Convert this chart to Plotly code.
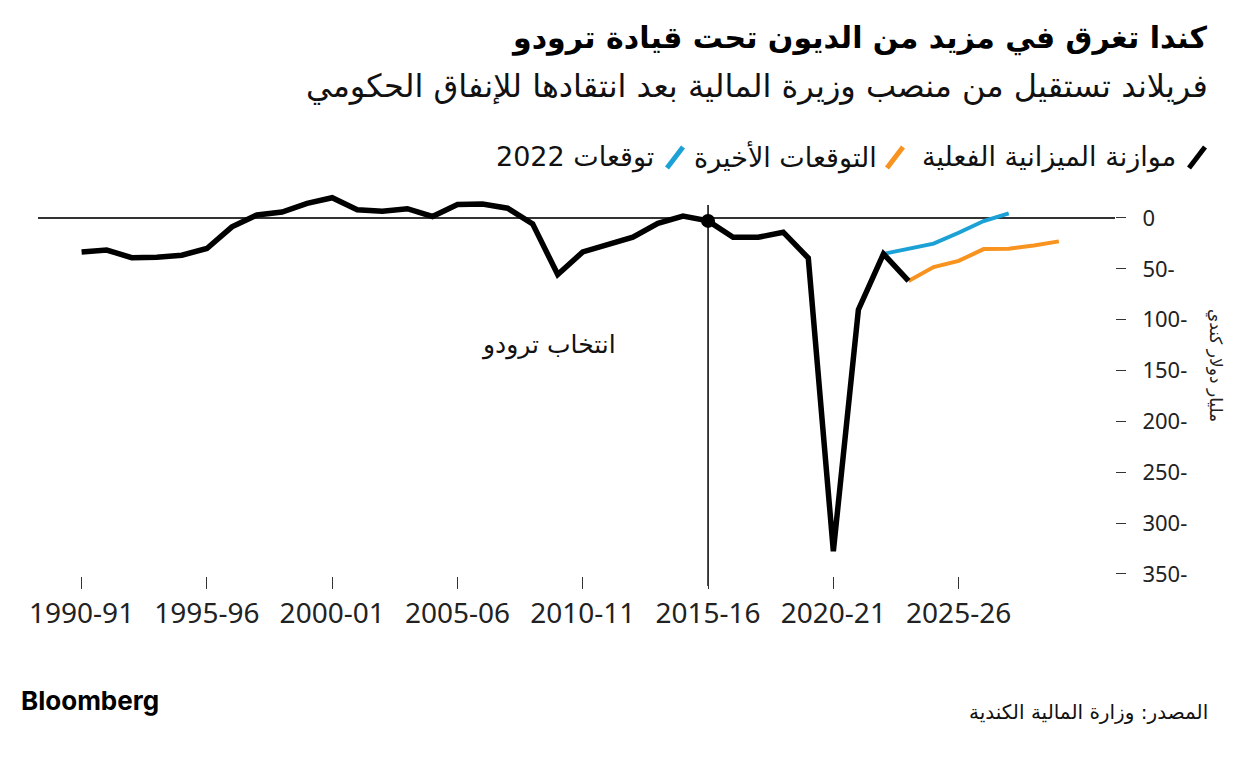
import plotly.graph_objects as go

# ---- data (billion CAD), fiscal years given by start year ----
actual_years = list(range(1990, 2024))
actual_balance = [-33.4, -31.5, -39.0, -38.5, -36.6, -30.0, -8.7, 3.0, 5.8, 14.3,
                  19.9, 8.0, 6.6, 9.1, 1.5, 13.2, 13.8, 9.6, -5.8, -55.6,
                  -33.4, -26.3, -18.9, -5.2, 1.9, -2.9, -19.0, -19.0, -14.0, -39.4,
                  -327.7, -90.2, -35.3, -61.9]

forecast_2022_years = [2022, 2023, 2024, 2025, 2026, 2027]
forecast_2022 = [-35.3, -30.6, -25.3, -14.5, -3.0, 4.5]

latest_years = [2023, 2024, 2025, 2026, 2027, 2028, 2029]
latest_forecast = [-61.9, -48.3, -42.2, -30.6, -30.2, -27.1, -23.0]

tick_years = [1990, 1995, 2000, 2005, 2010, 2015, 2020, 2025]
tick_labels = ["1990-91", "1995-96", "2000-01", "2005-06", "2010-11", "2015-16", "2020-21", "2025-26"]
y_ticks = [0, -50, -100, -150, -200, -250, -300, -350]
y_tick_labels = ["0", "50-", "100-", "150-", "200-", "250-", "300-", "350-"]

election_year = 2015
election_value = -2.9

title = "كندا تغرق في مزيد من الديون تحت قيادة ترودو"
subtitle = "فريلاند تستقيل من منصب وزيرة المالية بعد انتقادها للإنفاق الحكومي"
legend_names = ["موازنة الميزانية الفعلية", "التوقعات الأخيرة", "توقعات 2022"]
colors = ["#000000", "#f7931e", "#1ba1d6"]
annotation_text = "انتخاب ترودو"
y_title = "مليار دولار كندي"
source = "المصدر: وزارة المالية الكندية"

AR = "DejaVu Sans, Noto Sans, sans-serif"
NUM = "Noto Sans, Open Sans, sans-serif"

fig = go.Figure()
fig.add_trace(go.Scatter(x=forecast_2022_years, y=forecast_2022, mode="lines",
                         line=dict(color=colors[2], width=4), name=legend_names[2]))
fig.add_trace(go.Scatter(x=latest_years, y=latest_forecast, mode="lines",
                         line=dict(color=colors[1], width=4), name=legend_names[1]))
fig.add_trace(go.Scatter(x=actual_years, y=actual_balance, mode="lines",
                         line=dict(color=colors[0], width=5.5), name=legend_names[0]))
fig.add_trace(go.Scatter(x=[election_year], y=[election_value], mode="markers",
                         marker=dict(color="#000", size=14), showlegend=False))

# page body has an 8px margin: work in reference pixel space and offset
OFF = 8
W, HT = 1240 - OFF, 760 - OFF
L, R, T, B = 38 - OFF, 1115 - OFF, 190 - OFF, 576 - OFF
H = B - T

fig.update_layout(
    width=W, height=HT,
    margin=dict(l=L, r=W - R, t=T, b=HT - B),
    paper_bgcolor="white", plot_bgcolor="white",
    showlegend=False,
    xaxis=dict(range=[1988.26, 2031.24], tickvals=tick_years, ticktext=tick_labels,
               showgrid=False, zeroline=False, showline=False,
               ticks="outside", ticklen=12, tickcolor="#333", tickwidth=1,
               ticklabelstandoff=0,
               tickfont=dict(family=NUM, size=28, color="#222")),
    yaxis=dict(range=[-352, 27.5], side="right", tickvals=y_ticks, ticktext=y_tick_labels,
               showgrid=False, zeroline=True, zerolinecolor="#333", zerolinewidth=1.5,
               showline=False, ticks="outside", ticklen=10, tickcolor="#333", tickwidth=1,
               ticklabelstandoff=12,
               tickfont=dict(family=NUM, size=22, color="#222")),
)


def py(px):
    return (B - (px - OFF)) / H


def ax(px):
    return ((px - OFF) - L) / (R - L)


# vertical election line
fig.add_shape(type="line", xref="x", yref="paper", x0=election_year, x1=election_year,
              y0=py(586), y1=py(205), line=dict(color="#000", width=1.5), layer="below")

fig.add_annotation(x=2011.4, y=-125, xref="x", yref="y", text=annotation_text,
                   showarrow=False, xanchor="right", yanchor="middle",
                   font=dict(family=AR, size=25, color="#111"))

# title & subtitle
fig.add_annotation(x=ax(1210), y=py(38), xref="paper", yref="paper", text="<b>" + title + "</b>",
                   showarrow=False, xanchor="right", yanchor="middle",
                   font=dict(family=AR, size=30, color="#000"))
fig.add_annotation(x=ax(1210), y=py(86), xref="paper", yref="paper", text=subtitle,
                   showarrow=False, xanchor="right", yanchor="middle",
                   font=dict(family=AR, size=32, color="#111"))

# custom legend (right-to-left)
legend_items = [(1209, 1178, legend_names[0], colors[0]),
                (907, 879, legend_names[1], colors[1]),
                (687, 656, legend_names[2], colors[2])]
for sx, tx, name, col in legend_items:
    fig.add_shape(type="line", xref="paper", yref="paper",
                  x0=ax(sx - 20), x1=ax(sx - 4), y0=py(168), y1=py(147),
                  line=dict(color=col, width=5))
    fig.add_annotation(x=ax(tx), y=py(157), xref="paper", yref="paper", text=name,
                       showarrow=False, xanchor="right", yanchor="middle",
                       font=dict(family=AR, size=27, color="#111"))

# y axis title
fig.add_annotation(x=ax(1216), y=py(365), xref="paper", yref="paper", text=y_title,
                   showarrow=False, textangle=90, xanchor="center", yanchor="middle",
                   font=dict(family=AR, size=17, color="#222"))

# footer
fig.add_annotation(x=ax(19), y=py(700), xref="paper", yref="paper", text="<b>Bloomberg</b>",
                   showarrow=False, xanchor="left", yanchor="middle",
                   font=dict(family="Inter, Roboto, sans-serif", size=26, color="#000"))
fig.add_annotation(x=ax(1210), y=py(712), xref="paper", yref="paper", text=source,
                   showarrow=False, xanchor="right", yanchor="middle",
                   font=dict(family=AR, size=20, color="#111"))

fig.write_html("out.html")
